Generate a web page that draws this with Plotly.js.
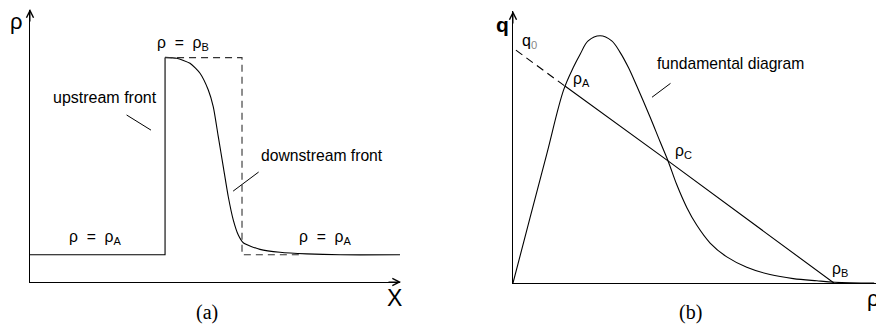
<!DOCTYPE html>
<html>
<head>
<meta charset="utf-8">
<script src="https://cdn.plot.ly/plotly-3.0.1.min.js"></script>
<style>
  html, body { margin: 0; padding: 0; background: #fff; }
  #plot { width: 876px; height: 324px; }
</style>
</head>
<body>
<div id="plot"></div>
<script>
// Panel (a): density profile rho(x) (arbitrary units)
var rhoA = 0.12;
var rhoB = 0.99;
var frontX = 3.65;      // position of the upstream front
var shockX = 5.73;      // position of the sharp (dashed) downstream front

var stepX = [0, frontX, frontX];
var stepRho = [rhoA, rhoA, rhoB];

var smoothX = [3.649, 3.965, 4.324, 4.595, 4.819, 4.954, 5.089, 5.224, 5.359, 5.495, 5.630, 5.765,
               6.216, 6.757, 7.478, 8.38, 10.0];
var smoothRho = [0.991, 0.987, 0.965, 0.921, 0.847, 0.773, 0.641, 0.508, 0.376, 0.273, 0.207, 0.173,
                 0.144, 0.131, 0.124, 0.12, 0.12];

var boxX = [frontX, shockX, shockX, 7.38];
var boxRho = [rhoB, rhoB, rhoA, rhoA];

// Panel (b): fundamental diagram q(rho) and the chord through rhoA, rhoC, rhoB
var fdRho = [0, 0.047, 0.093, 0.139, 0.166, 0.185, 0.207, 0.240, 0.272, 0.295, 0.318, 0.341, 0.377,
             0.405, 0.428, 0.451, 0.479, 0.506, 0.543, 0.589, 0.644, 0.708, 0.772, 0.837, 0.887, 0.995];
var fdQ = [0, 0.240, 0.474, 0.708, 0.792, 0.841, 0.890, 0.909, 0.890, 0.848, 0.792, 0.724, 0.612,
           0.520, 0.446, 0.362, 0.277, 0.213, 0.147, 0.096, 0.058, 0.031, 0.016, 0.008, 0.003, 0];

var chordDashRho = [0.008, 0.143];
var chordDashQ = [0.856, 0.724];
var chordRho = [0.143, 0.428, 0.884];
var chordQ = [0.724, 0.448, 0];

var W = 876, H = 324;
function px(x) { return x / W; }
function py(y) { return 1 - y / H; }

var sans = 'Liberation Sans, Arial, sans-serif';
var serif = 'Liberation Serif, Times New Roman, serif';
var lineStyle = { color: '#000', width: 1.1 };
var sp = '\u00a0\u00a0';

var traces = [
    { x: stepX, y: stepRho, mode: 'lines', line: lineStyle, xaxis: 'x', yaxis: 'y' },
    { x: smoothX, y: smoothRho, mode: 'lines', line: { color: '#000', width: 1.1, shape: 'spline', smoothing: 0.6 }, xaxis: 'x', yaxis: 'y' },
    { x: boxX, y: boxRho, mode: 'lines', line: { color: '#333', width: 1.1, dash: '7px,5px' }, xaxis: 'x', yaxis: 'y' },
    { x: fdRho, y: fdQ, mode: 'lines', line: { color: '#000', width: 1.1, shape: 'spline', smoothing: 1 }, xaxis: 'x2', yaxis: 'y2' },
    { x: chordDashRho, y: chordDashQ, mode: 'lines', line: { color: '#000', width: 1.1, dash: '8px,5px' }, xaxis: 'x2', yaxis: 'y2' },
    { x: chordRho, y: chordQ, mode: 'lines', line: lineStyle, xaxis: 'x2', yaxis: 'y2' }
];

function bareAxis(domain, range, anchor) {
    return {
        domain: domain, range: range, anchor: anchor,
        showline: true, linecolor: '#000', linewidth: 1,
        showgrid: false, zeroline: false, showticklabels: false, ticks: '',
        fixedrange: true
    };
}

function label(text, x, y, size, family, ref) {
    var a = {
        text: text, x: x, y: y, showarrow: false, xanchor: 'center', yanchor: 'middle',
        font: { family: family || sans, size: size || 15.7, color: '#000' }
    };
    if (ref === 'b') { a.xref = 'x2'; a.yref = 'y2'; }
    else if (ref === 'a') { a.xref = 'x'; a.yref = 'y'; }
    else { a.xref = 'paper'; a.yref = 'paper'; }
    return a;
}

function leader(x0, y0, x1, y1, ref) {
    return {
        xref: ref === 'b' ? 'x2' : 'x', yref: ref === 'b' ? 'y2' : 'y',
        axref: ref === 'b' ? 'x2' : 'x', ayref: ref === 'b' ? 'y2' : 'y',
        x: x1, y: y1, ax: x0, ay: y0, text: '', showarrow: true,
        arrowhead: 0, arrowwidth: 1, arrowcolor: '#000', standoff: 0, startstandoff: 0
    };
}

function arrowTip(x, y, dx, dy) {
    return {
        xref: 'paper', yref: 'paper', x: px(x), y: py(y), ax: dx, ay: dy, text: '',
        showarrow: true, arrowhead: 5, arrowsize: 1.4, arrowwidth: 1, arrowcolor: '#000', standoff: 0
    };
}

var annotations = [
    // panel (a)
    label('ρ' + sp + '=' + sp + 'ρ<sub>B</sub>', 4.14, 1.054, 15.7, sans, 'a'),
    label('upstream front', 2.03, 0.812, 16, sans, 'a'),
    label('downstream front', 7.88, 0.560, 15.7, sans, 'a'),
    label('ρ' + sp + '=' + sp + 'ρ<sub>A</sub>', 1.77, 0.198, 15.7, sans, 'a'),
    label('ρ' + sp + '=' + sp + 'ρ<sub>A</sub>', 7.96, 0.198, 15.7, sans, 'a'),
    leader(2.57, 0.741, 3.27, 0.670, 'a'),
    leader(6.22, 0.490, 5.49, 0.401, 'a'),
    label('ρ', px(16), py(22), 22, sans),
    label('X', px(394), py(298), 23, sans),
    label('(a)', px(207), py(312), 20, serif),
    arrowTip(30, 9, 0, 14),
    arrowTip(401, 282, -14, 0),
    // panel (b)
    label('q<sub><span style="color:#888">0</span></sub>', 0.045, 0.889, 16, sans, 'b'),
    label('ρ<sub>A</sub>', 0.19, 0.749, 15.7, sans, 'b'),
    label('ρ<sub>C</sub>', 0.471, 0.483, 15.7, sans, 'b'),
    label('ρ<sub>B</sub>', 0.90, 0.048, 15.7, sans, 'b'),
    label('fundamental diagram', 0.60, 0.808, 15.7, sans, 'b'),
    leader(0.438, 0.738, 0.383, 0.683, 'b'),
    label('<b>q</b>', px(502), py(24), 21, sans),
    label('ρ', px(873), py(298), 22, sans),
    label('(b)', px(690), py(312), 20, serif),
    arrowTip(513, 11, 0, 14)
];

var layout = {
    width: W, height: H,
    margin: { l: 0, r: 0, t: 0, b: 0 },
    paper_bgcolor: '#fff', plot_bgcolor: '#fff',
    showlegend: false,
    xaxis: bareAxis([px(30), px(400)], [0, 10], 'y'),
    yaxis: bareAxis([1 - 282 / H, 1 - 10 / H], [0, 1.2], 'x'),
    xaxis2: bareAxis([px(513), 1], [0, 1], 'y2'),
    yaxis2: bareAxis([1 - 283 / H, 1 - 11 / H], [0, 1], 'x2'),
    annotations: annotations
};

var config = { staticPlot: true };

var plotElement = document.getElementById('plot');
if (plotElement) {
    Plotly.newPlot('plot', traces, layout, config);
} else {
    console.error("No DOM element with id 'plot' exists on the page.");
}
</script>
</body>
</html>
